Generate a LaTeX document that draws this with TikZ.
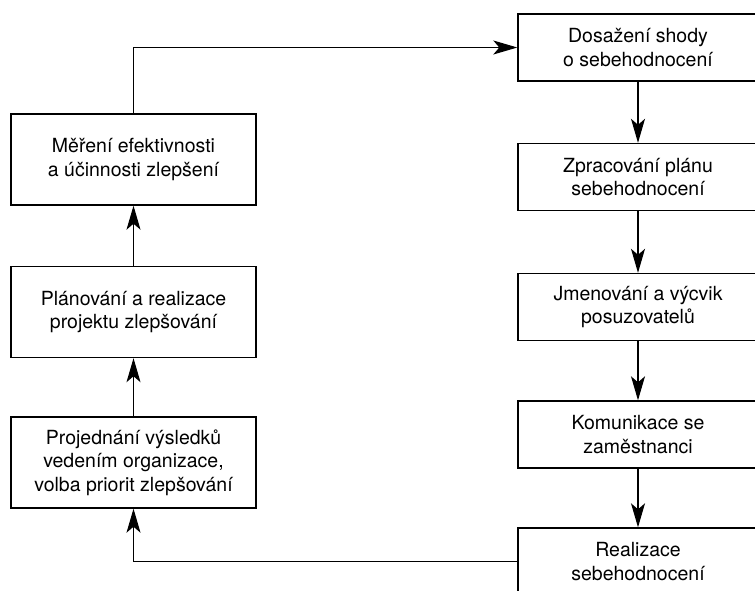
\documentclass[tikz,border=0pt]{standalone}
\usepackage{fontspec}
\setmainfont{TeX Gyre Heros}
\usetikzlibrary{arrows.meta}
\begin{document}
\begin{tikzpicture}[x=1pt,y=-1pt,
  stepbox/.style={draw, line width=1.4pt, inner sep=0pt, align=center,
    font=\fontsize{19.5}{23.5}\selectfont},
  leftbox/.style={stepbox, minimum width=245pt, minimum height=91pt},
  rightbox/.style={stepbox, minimum width=240pt, minimum height=67pt},
  flow/.style={line width=1.1pt, -{Stealth[length=24pt,width=14pt,inset=6pt]}}]
  \clip (0,0) rectangle (755,590);
  % right column: preparing and running the self-assessment
  \node[rightbox] (r1) at (638,47.5) {Dosažení shody\\o sebehodnocení};
  \node[rightbox] (r2) at (638,177) {Zpracování plánu\\sebehodnocení};
  \node[rightbox] (r3) at (638,307) {Jmenování a výcvik\\posuzovatelů};
  \node[rightbox] (r4) at (638,434.5) {Komunikace se\\zaměstnanci};
  \node[rightbox] (r5) at (638,561.5) {Realizace\\sebehodnocení};
  % left column: acting on the results
  \node[leftbox] (l3) at (133.5,462.5) {Projednání výsledků\\vedením organizace,\\volba priorit zlepšování};
  \node[leftbox] (l2) at (133.5,312) {Plánování a realizace\\projektu zlepšování};
  \node[leftbox] (l1) at (133.5,159.5) {Měření efektivnosti\\a účinnosti zlepšení};
  % connectors
  \draw[flow] (r1) -- (r2);
  \draw[flow] (r2) -- (r3);
  \draw[flow] (r3) -- (r4);
  \draw[flow] (r4) -- (r5);
  \draw[flow] (r5.west) -| (l3.south);
  \draw[flow] (l3) -- (l2);
  \draw[flow] (l2) -- (l1);
  \draw[flow] (l1.north) |- (r1.west);
\end{tikzpicture}
\end{document}
